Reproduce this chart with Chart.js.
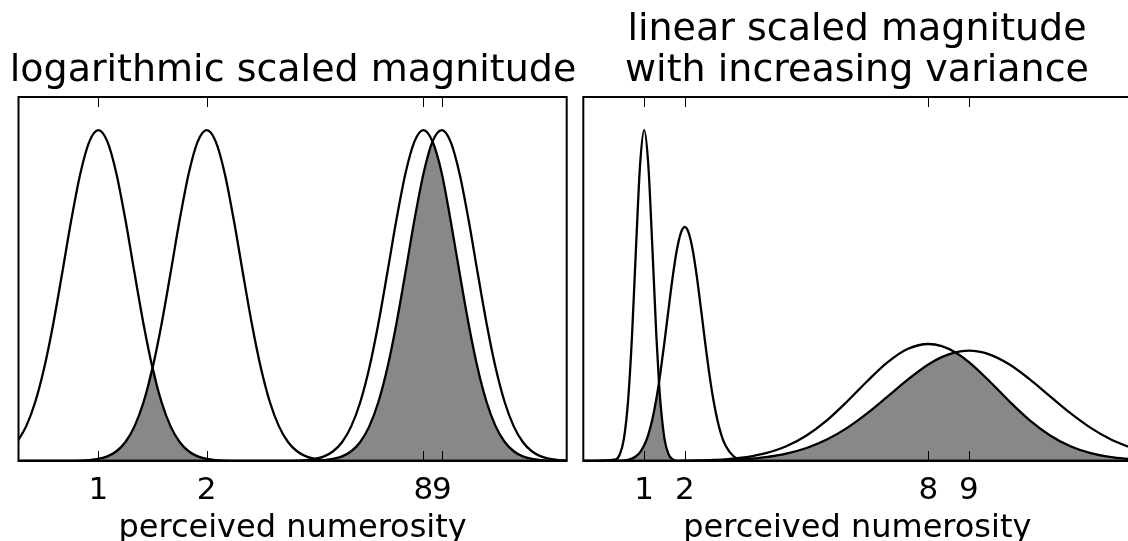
<!DOCTYPE html>
<html>
<head>
<meta charset="utf-8">
<script src="https://cdn.jsdelivr.net/npm/chart.js@4.4.1/dist/chart.umd.min.js"></script>
<style>
  html, body { margin: 0; padding: 0; background: #fff; overflow: hidden; width: 1128px; height: 541px; position: relative; }
  canvas { position: absolute; top: 0; }
  #logChart { left: -17px; }
  #linChart { left: 547px; }
</style>
</head>
<body>
<canvas id="logChart" width="620" height="541"></canvas>
<canvas id="linChart" width="620" height="541"></canvas>
<script>
// ---- labels ----
const tickValues = [1, 2, 8, 9];
const tickLabels = ['1', '2', '8', '9'];
const xLabel = 'perceived numerosity';
const logTitle = 'logarithmic scaled magnitude';
const linTitle = ['linear scaled magnitude', 'with increasing variance'];

// ---- logarithmic panel: sample positions (numerosity) ----
const logX = [0.5946, 0.6300, 0.6674, 0.7071, 0.7492, 0.7937, 0.8409, 0.8909, 0.9439,
  1, 1.0595, 1.1225, 1.1892, 1.2599, 1.3348, 1.4142, 1.4983, 1.5874, 1.6818, 1.7818, 1.8877,
  2, 2.1189, 2.2449, 2.3784, 2.5198, 2.6697, 2.8284, 2.9966, 3.1748, 3.3636, 3.5636, 3.7755,
  4, 4.2379, 4.4898, 4.7568, 5.0397, 5.3394, 5.6569, 5.9932, 6.3496, 6.7272, 7.1272, 7.5510,
  8, 8.4757, 9, 9.5137, 10.0794, 10.6787, 11.3137, 11.9863, 12.6992, 13.4543, 14.2544, 15.1021,
  16, 16.9514, 17.9594, 19.0273, 20.1587];

// tuning curves for 1, 2, 8 and 9 on the log axis
const logN1 = [.0575, .1047, .1776, .2810, .4141, .5688, .7281, .8684, .9653,
  1, .9653, .8684, .7281, .5688, .4141, .2810, .1776, .1047, .0575, .0294, .0140,
  .0062, .0026, .0010, .0004, .0001, 0, 0, 0, 0, 0, 0, 0,
  0, 0, 0, 0, 0, 0, 0, 0, 0, 0, 0, 0,
  0, 0, 0, 0, 0, 0, 0, 0, 0, 0, 0, 0,
  0, 0, 0, 0, 0];
const logN2 = [0, 0, 0, 0, 0, .0001, .0004, .0010, .0026,
  .0062, .0140, .0294, .0575, .1047, .1776, .2810, .4141, .5688, .7281, .8684, .9653,
  1, .9653, .8684, .7281, .5688, .4141, .2810, .1776, .1047, .0575, .0294, .0140,
  .0062, .0026, .0010, .0004, .0001, 0, 0, 0, 0, 0, 0, 0,
  0, 0, 0, 0, 0, 0, 0, 0, 0, 0, 0, 0,
  0, 0, 0, 0, 0];
const logN8 = [0, 0, 0, 0, 0, 0, 0, 0, 0,
  0, 0, 0, 0, 0, 0, 0, 0, 0, 0, 0, 0,
  0, 0, 0, 0, 0, 0, 0, 0, .0001, .0004, .0010, .0026,
  .0062, .0140, .0294, .0575, .1047, .1776, .2810, .4141, .5688, .7281, .8684, .9653,
  1, .9653, .8684, .7281, .5688, .4141, .2810, .1776, .1047, .0575, .0294, .0140,
  .0062, .0026, .0010, .0004, .0001];
const logN9 = [0, 0, 0, 0, 0, 0, 0, 0, 0,
  0, 0, 0, 0, 0, 0, 0, 0, 0, 0, 0, 0,
  0, 0, 0, 0, 0, 0, 0, 0, 0, 0, .0001, .0004,
  .0010, .0026, .0062, .0140, .0294, .0575, .1047, .1776, .2810, .4141, .5688, .7281,
  .8684, .9653, 1, .9653, .8684, .7281, .5688, .4141, .2810, .1776, .1047, .0575,
  .0294, .0140, .0062, .0026, .0010];

// ---- linear panel: sample positions (numerosity) ----
const linX = [-0.5, 0.3, 0.4, 0.5, 0.6, 0.7, 0.8, 0.9, 1.0, 1.1, 1.2, 1.3, 1.365,
  1.4, 1.5, 1.6, 1.7, 1.8, 1.9, 2.0, 2.1, 2.2, 2.3, 2.4, 2.5, 2.6, 2.7, 2.8, 2.9, 3.0,
  3.2, 3.4, 3.6,
  4.0, 4.5, 5.0, 5.5, 6.0, 6.5, 7.0, 7.5, 8.0, 8.33, 8.66,
  9.0, 9.5, 10.0, 10.5, 11.0, 11.5, 12.0, 12.5, 13.0];

// tuning curves for 1, 2, 8 and 9 on the linear axis
const linN1 = [0, .0050, .0204, .0669, .1771, .3778, .6488, .8975, 1, .8975, .6488, .3778, .2367,
  .1771, .0669, .0204, .0050, .0010, .0002, 0, 0, 0, 0, 0, 0, 0, 0, 0, 0, 0,
  0, 0, 0,
  0, 0, 0, 0, 0, 0, 0, 0, 0, 0, 0,
  0, 0, 0, 0, 0, 0, 0, 0, 0];
const linN2 = [0, .0003, .0007, .0016, .0035, .0073, .0144, .0268, .0473, .0791, .1252, .1880, .2376,
  .2671, .3597, .4588, .5544, .6346, .6882, .7071, .6882, .6346, .5544, .4588, .3597, .2671, .1880, .1252, .0791, .0473,
  .0144, .0035, .0007,
  0, 0, 0, 0, 0, 0, 0, 0, 0, 0, 0,
  0, 0, 0, 0, 0, 0, 0, 0, 0];
const linN8 = [0, 0, 0, 0, 0, 0, .0001, .0001, .0001, .0001, .0001, .0002, .0002,
  .0002, .0003, .0003, .0004, .0005, .0007, .0008, .0010, .0012, .0015, .0018, .0021, .0026, .0031, .0037, .0044, .0052,
  .0072, .0099, .0134,
  .0237, .0446, .0773, .1229, .1799, .2418, .2986, .3390, .3536, .3472, .3285,
  .2986, .2418, .1799, .1229, .0773, .0446, .0237, .0115, .0052];
const linN9 = [0, 0, 0, 0, 0, 0, 0, .0001, .0001, .0001, .0001, .0001, .0001,
  .0001, .0002, .0002, .0003, .0003, .0004, .0005, .0006, .0007, .0008, .0010, .0012, .0014, .0017, .0020, .0023, .0027,
  .0037, .0051, .0068,
  .0118, .0223, .0394, .0649, .1002, .1447, .1954, .2468, .2917, .3139, .3282,
  .3333, .3224, .2917, .2468, .1954, .1447, .1002, .0649, .0394];

// ---- helpers ----
const FONT = 'DejaVu Sans';
Chart.defaults.font.family = FONT;
Chart.defaults.color = '#000';

const points = (xs, ys) => xs.map((x, i) => ({ x, y: ys[i] }));
const shared = (xs, a, b) => xs.map((x, i) => ({ x, y: Math.min(a[i], b[i]) }));

const curveSet = (xs, ys) => ({
  data: points(xs, ys), borderColor: '#000', borderWidth: 2.3, pointRadius: 0,
  fill: false, cubicInterpolationMode: 'monotone', order: 0
});
const overlapSet = (xs, a, b) => ({
  data: shared(xs, a, b), borderColor: 'rgba(0,0,0,0)', borderWidth: 0, pointRadius: 0,
  backgroundColor: '#888888', fill: 'origin', cubicInterpolationMode: 'monotone', order: 1
});

// axes frame with inward tick marks on top and bottom
const frame = {
  id: 'frame',
  afterDraw(chart) {
    const { ctx, chartArea: a } = chart;
    const x = chart.scales.x;
    ctx.save();
    ctx.strokeStyle = '#000';
    ctx.lineWidth = 1;
    x.ticks.forEach(t => {
      const px = Math.round(x.getPixelForValue(t.value)) + 0.5;
      ctx.beginPath();
      ctx.moveTo(px, a.bottom); ctx.lineTo(px, a.bottom - 10);
      ctx.moveTo(px, a.top); ctx.lineTo(px, a.top + 10);
      ctx.stroke();
    });
    ctx.lineWidth = 2;
    ctx.strokeRect(a.left, a.top, a.right - a.left, a.bottom - a.top);
    ctx.restore();
  }
};

function xAxis(type, min, max) {
  return {
    type, min, max,
    afterBuildTicks: s => { s.ticks = tickValues.map(v => ({ value: v })); },
    afterFit: s => { s.height = 80; },
    grid: { display: false },
    border: { display: false },
    ticks: {
      autoSkip: false, maxRotation: 0, minRotation: 0, padding: 6, color: '#000',
      font: { family: FONT, size: 31, lineHeight: 1 },
      callback: v => { const i = tickValues.indexOf(v); return i >= 0 ? tickLabels[i] : ''; }
    },
    title: {
      display: true, text: xLabel, color: '#000',
      font: { family: FONT, size: 32, lineHeight: 0.8 }, padding: { top: 0, bottom: 0 }
    }
  };
}

// blank side axes that only reserve room beside the plot area
const spacer = (position, width) => ({
  axis: 'y', display: true, position, min: 0, max: 1.1,
  grid: { display: false }, border: { display: false }, ticks: { display: false },
  afterFit: s => { s.width = width; }
});

function options(type, min, max, title, titlePad, leftW, rightW) {
  return {
    responsive: false, animation: false, events: [],
    layout: { padding: 0 },
    scales: {
      x: xAxis(type, min, max),
      y: spacer('left', leftW),
      yRight: spacer('right', rightW)
    },
    plugins: {
      legend: { display: false },
      tooltip: { enabled: false },
      title: {
        display: true, text: title, color: '#000',
        font: { family: FONT, size: 38, weight: 'normal', lineHeight: 41 / 38 },
        padding: titlePad
      }
    }
  };
}

new Chart(document.getElementById('logChart'), {
  type: 'line',
  data: {
    datasets: [
      curveSet(logX, logN1), curveSet(logX, logN2), curveSet(logX, logN8), curveSet(logX, logN9),
      overlapSet(logX, logN1, logN2), overlapSet(logX, logN8, logN9)
    ]
  },
  options: options('logarithmic', 0.6, 20, logTitle, { top: 50.5, bottom: 5.5 }, 35.5, 36.3),
  plugins: [frame]
});

new Chart(document.getElementById('linChart'), {
  type: 'line',
  data: {
    datasets: [
      curveSet(linX, linN1), curveSet(linX, linN2), curveSet(linX, linN8), curveSet(linX, linN9),
      overlapSet(linX, linN1, linN2), overlapSet(linX, linN8, linN9)
    ]
  },
  options: options('linear', -0.5, 13, linTitle, { top: 9.5, bottom: 5.5 }, 36.3, 35.7),
  plugins: [frame]
});
</script>
</body>
</html>
